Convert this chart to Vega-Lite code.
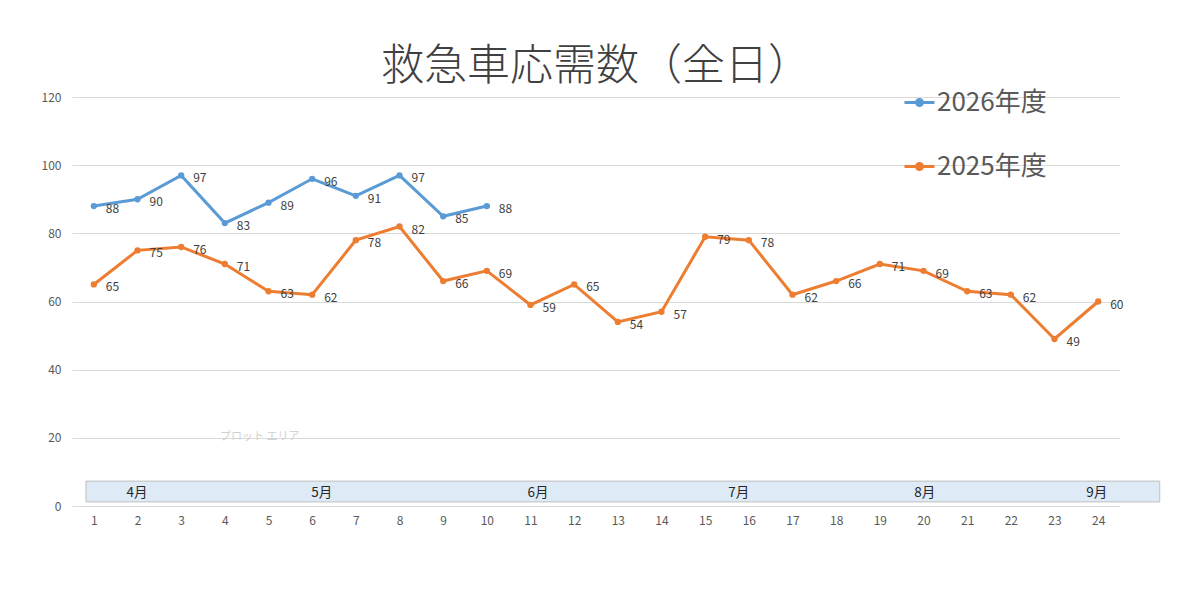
{
  "$schema": "https://vega.github.io/schema/vega-lite/v6.json",
  "width": 1048,
  "height": 409,
  "autosize": {"type": "none"},
  "padding": {"left": 72, "top": 97, "right": 75, "bottom": 95},
  "background": "white",
  "title": {
    "text": "救急車応需数（全日）",
    "font": "Noto Sans CJK JP",
    "fontSize": 43,
    "fontWeight": 300,
    "color": "#404040",
    "anchor": "middle",
    "dx": 0,
    "offset": -3
  },
  "config": {
    "view": {"stroke": null},
    "font": "Noto Sans CJK JP",
    "axis": {
      "labelFont": "Noto Sans CJK JP",
      "labelColor": "#595959",
      "labelFontSize": 12,
      "ticks": false,
      "domain": false,
      "title": null
    }
  },
  "datasets": {
    "counts": [
      {"series": "2026年度", "n": 1, "v": 88},
      {"series": "2026年度", "n": 2, "v": 90},
      {"series": "2026年度", "n": 3, "v": 97},
      {"series": "2026年度", "n": 4, "v": 83},
      {"series": "2026年度", "n": 5, "v": 89},
      {"series": "2026年度", "n": 6, "v": 96},
      {"series": "2026年度", "n": 7, "v": 91},
      {"series": "2026年度", "n": 8, "v": 97},
      {"series": "2026年度", "n": 9, "v": 85},
      {"series": "2026年度", "n": 10, "v": 88},
      {"series": "2025年度", "n": 1, "v": 65},
      {"series": "2025年度", "n": 2, "v": 75},
      {"series": "2025年度", "n": 3, "v": 76},
      {"series": "2025年度", "n": 4, "v": 71},
      {"series": "2025年度", "n": 5, "v": 63},
      {"series": "2025年度", "n": 6, "v": 62},
      {"series": "2025年度", "n": 7, "v": 78},
      {"series": "2025年度", "n": 8, "v": 82},
      {"series": "2025年度", "n": 9, "v": 66},
      {"series": "2025年度", "n": 10, "v": 69},
      {"series": "2025年度", "n": 11, "v": 59},
      {"series": "2025年度", "n": 12, "v": 65},
      {"series": "2025年度", "n": 13, "v": 54},
      {"series": "2025年度", "n": 14, "v": 57},
      {"series": "2025年度", "n": 15, "v": 79},
      {"series": "2025年度", "n": 16, "v": 78},
      {"series": "2025年度", "n": 17, "v": 62},
      {"series": "2025年度", "n": 18, "v": 66},
      {"series": "2025年度", "n": 19, "v": 71},
      {"series": "2025年度", "n": 20, "v": 69},
      {"series": "2025年度", "n": 21, "v": 63},
      {"series": "2025年度", "n": 22, "v": 62},
      {"series": "2025年度", "n": 23, "v": 49},
      {"series": "2025年度", "n": 24, "v": 60}
    ],
    "months": [
      {"month": "4月", "pos": 1.99},
      {"month": "5月", "pos": 6.22},
      {"month": "6月", "pos": 11.17},
      {"month": "7月", "pos": 15.77},
      {"month": "8月", "pos": 20.03},
      {"month": "9月", "pos": 23.97}
    ]
  },
  "layer": [
    {
      "data": {"values": [{}]},
      "mark": {"type": "rect", "fill": "#DEEBF7", "stroke": "#BFBFBF", "strokeWidth": 1},
      "encoding": {
        "x": {
          "datum": 0.82,
          "type": "quantitative",
          "scale": {"domain": [0.5, 24.5], "nice": false, "zero": false},
          "axis": {"values": [1, 2, 3, 4, 5, 6, 7, 8, 9, 10, 11, 12, 13, 14, 15, 16, 17, 18, 19, 20, 21, 22, 23, 24], "grid": false, "labelPadding": 9}
        },
        "x2": {"datum": 25.41},
        "y": {
          "datum": 1.2,
          "type": "quantitative",
          "scale": {"domain": [0, 120], "nice": false},
          "axis": {"values": [0, 20, 40, 60, 80, 100, 120], "grid": true, "gridColor": "#D9D9D9", "gridWidth": 1, "labelPadding": 11}
        },
        "y2": {"datum": 7.3}
      }
    },
    {
      "data": {"name": "months"},
      "mark": {"type": "text", "fontSize": 13.5, "color": "#262626", "baseline": "middle", "align": "center"},
      "encoding": {
        "x": {"field": "pos", "type": "quantitative", "scale": {"domain": [0.5, 24.5], "nice": false, "zero": false}},
        "y": {"datum": 3.8, "type": "quantitative"},
        "text": {"field": "month"}
      }
    },
    {
      "data": {"name": "counts"},
      "mark": {
        "type": "line",
        "strokeWidth": 3,
        "point": {"filled": true, "size": 40}
      },
      "encoding": {
        "x": {"field": "n", "type": "quantitative", "scale": {"domain": [0.5, 24.5], "nice": false, "zero": false}},
        "y": {"field": "v", "type": "quantitative", "scale": {"domain": [0, 120], "nice": false}},
        "color": {
          "field": "series",
          "type": "nominal",
          "scale": {"domain": ["2026年度", "2025年度"], "range": ["#5B9BD5", "#ED7D31"]},
          "legend": {
            "title": null,
            "orient": "none",
            "legendX": 831,
            "legendY": -11,
            "symbolType": "M-1,0L1,0M-0.2,0A0.2,0.2 0 1,1 0.2,0A0.2,0.2 0 1,1 -0.2,0",
            "symbolSize": 900,
            "symbolStrokeWidth": 3,
            "labelFontSize": 26,
            "labelColor": "#595959",
            "labelFont": "Noto Sans CJK JP",
            "labelOffset": 1,
            "rowPadding": 34
          }
        }
      }
    },
    {
      "data": {"name": "counts"},
      "mark": {"type": "text", "align": "left", "baseline": "middle", "dx": 12, "dy": 3, "fontSize": 12, "color": "#404040"},
      "encoding": {
        "x": {"field": "n", "type": "quantitative", "scale": {"domain": [0.5, 24.5], "nice": false, "zero": false}},
        "y": {"field": "v", "type": "quantitative"},
        "text": {"field": "v", "type": "quantitative"}
      }
    },
    {
      "data": {"values": [{"note": "プロット エリア"}]},
      "mark": {"type": "text", "align": "center", "baseline": "middle", "fontSize": 11, "color": "#D0D0D0"},
      "encoding": {
        "x": {"datum": 4.8, "type": "quantitative"},
        "y": {"datum": 20.3, "type": "quantitative"},
        "text": {"field": "note"}
      }
    }
  ]
}
